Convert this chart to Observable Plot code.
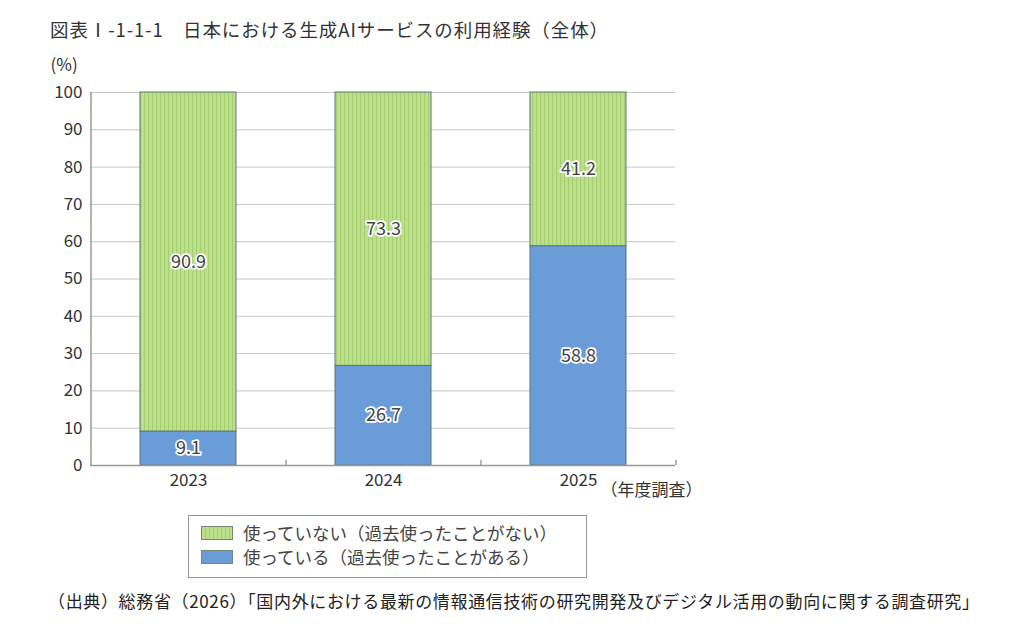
<!DOCTYPE html>
<html><head><meta charset="utf-8">
<script src="https://cdn.jsdelivr.net/npm/d3@7"></script>
<script src="https://cdn.jsdelivr.net/npm/@observablehq/plot@0.6"></script>
<style>
body{margin:0;background:#fff;font-family:"Noto Sans CJK JP","Noto Sans",sans-serif;color:#333;width:1024px;height:629px;position:relative;overflow:hidden}
#title{position:absolute;left:50px;top:16px;font-size:18.5px;color:#333;white-space:nowrap;letter-spacing:0.9px}
#chart{position:absolute;left:0;top:50px}
#legend{position:absolute;left:188px;top:515px;width:397px;height:61px;border:1px solid #999;background:#fff}
.item{position:absolute;left:12px;font-size:17.5px;color:#444;white-space:nowrap;display:flex;align-items:center}
#caption{position:absolute;left:48px;top:588px;font-size:17px;color:#222;white-space:nowrap;letter-spacing:0.65px}
</style></head>
<body>
<div id="title">図表Ⅰ-1-1-1　日本における生成AIサービスの利用経験（全体）</div>
<div id="chart"></div>
<div id="legend"></div>
<div id="caption">（出典）総務省（2026）「国内外における最新の情報通信技術の研究開発及びデジタル活用の動向に関する調査研究」</div>
<script>
const years = ["2023", "2024", "2025"];
const seriesNames = ["使っている（過去使ったことがある）", "使っていない（過去使ったことがない）"];
const usedValues = [9.1, 26.7, 58.8];
const notUsedValues = [90.9, 73.3, 41.2];
const yTicks = [0, 10, 20, 30, 40, 50, 60, 70, 80, 90, 100];
const legendLabels = ["使っていない（過去使ったことがない）", "使っている（過去使ったことがある）"];

const blue = "#6a9cd8";
const greenFill = "url(#greenStripes)";

const data = [];
years.forEach((y, i) => data.push({year: y, series: seriesNames[0], value: usedValues[i]}));
years.forEach((y, i) => data.push({year: y, series: seriesNames[1], value: notUsedValues[i]}));

const step = 195;
const plot = Plot.plot({
  width: 1024,
  height: 455,
  marginLeft: 90,
  marginRight: 349,
  marginTop: 42,
  marginBottom: 40,
  style: {fontFamily: '"Noto Sans CJK JP","Noto Sans",sans-serif', fontSize: "17px", color: "#333", background: "#fff"},
  x: {domain: years, paddingInner: 0.51, paddingOuter: 0.255, label: null, tickSize: 0, tickPadding: 8},
  y: {domain: [0, 100], ticks: yTicks, label: null, tickSize: 0, tickPadding: 8},
  color: {domain: seriesNames, range: [blue, greenFill]},
  marks: [
    Plot.gridY(yTicks, {stroke: "#c8c8c8", strokeOpacity: 1, strokeWidth: 1}),
    Plot.axisY(yTicks, {tickSize: 0, tickPadding: 8, fontSize: 17, fill: "#333"}),
    Plot.axisX({tickSize: 0, tickPadding: 8, fontSize: 17, fill: "#333"}),
    Plot.barY(data, Plot.stackY({x: "year", y: "value", fill: "series", stroke: "#5f7480", strokeWidth: 1})),
    Plot.ruleY([0], {stroke: "#999", strokeWidth: 1.5}),
    Plot.ruleX(["2023"], {x: d => d, dx: -step / 2, y1: 0, y2: 100, stroke: "#999", strokeWidth: 1.5}),
    Plot.ruleX(years, {x: d => d, dx: step / 2, y1: 0, y2: 1.4, stroke: "#888", strokeWidth: 1.2}),
    Plot.text(data, Plot.stackY({x: "year", y: "value", z: "series", text: d => d.value.toFixed(1), fill: "#444", stroke: "white", strokeWidth: 3.5, fontSize: 18})),
    Plot.text(["（年度調査）"], {x: () => "2025", frameAnchor: "bottom", dx: 22, dy: 30, textAnchor: "start", fill: "#333", fontSize: 17}),
    Plot.text(["(%)"], {frameAnchor: "top-left", dx: -40, dy: -34, textAnchor: "start", fill: "#333", fontSize: 17})
  ]
});

const svg = d3.select(plot);
const defs = svg.insert("defs", ":first-child");
const pat = defs.append("pattern").attr("id", "greenStripes").attr("patternUnits", "userSpaceOnUse").attr("width", 4).attr("height", 4);
pat.append("rect").attr("width", 4).attr("height", 4).attr("fill", "#bde08c");
pat.append("rect").attr("x", 0).attr("width", 1.2).attr("height", 4).attr("fill", "#a6cf72");
document.getElementById("chart").appendChild(plot);

const legend = document.getElementById("legend");
legendLabels.forEach((lab, i) => {
  const it = document.createElement("div");
  it.className = "item";
  it.style.top = (4 + i * 24) + "px";
  const sw = document.createElementNS("http://www.w3.org/2000/svg", "svg");
  sw.setAttribute("width", 32); sw.setAttribute("height", 14);
  sw.style.marginRight = "10px";
  const fill = i === 0 ? greenFill : blue;
  sw.innerHTML = `<rect x="0.5" y="0.5" width="31" height="13" fill="${fill}" stroke="#6f8a6f"/>`;
  it.appendChild(sw);
  const t = document.createElement("span");
  t.textContent = lab;
  it.appendChild(t);
  legend.appendChild(it);
});
</script>
</body></html>
